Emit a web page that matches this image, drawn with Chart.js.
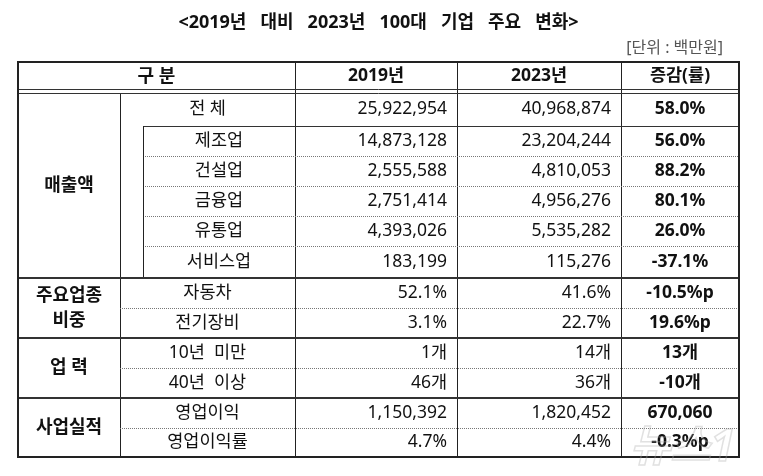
<!DOCTYPE html>
<html>
<head>
<meta charset="utf-8">
<script src="https://cdn.jsdelivr.net/npm/chart.js@4"></script>
<style>
  html, body { margin: 0; padding: 0; background: #fff; }
</style>
</head>
<body>
<canvas id="table-chart" width="763" height="476"></canvas>
<script>
const title = '<2019년   대비   2023년   100대   기업   주요   변화>'
const unitLabel = '[단위 : 백만원]'
const headers = ['구 분', '2019년', '2023년', '증감(률)']
const groups = [['매출액'], ['주요업종', '비중'], ['업 력'], ['사업실적']]
const groupSizes = [6, 2, 2, 2]
const items = ['전 체', '제조업', '건설업', '금융업', '유통업', '서비스업', '자동차', '전기장비', '10년  미만', '40년  이상', '영업이익', '영업이익률']
const values2019 = [25922954, 14873128, 2555588, 2751414, 4393026, 183199, 52.1, 3.1, 1, 46, 1150392, 4.7]
const values2023 = [40968874, 23204244, 4810053, 4956276, 5535282, 115276, 41.6, 22.7, 14, 36, 1820452, 4.4]
const changes = [58.0, 56.0, 88.2, 80.1, 26.0, -37.1, -10.5, 19.6, 13, -10, 670060, -0.3]
const valueUnits = ['', '', '', '', '', '', '%', '%', '개', '개', '', '%']
const changeUnits = ['%', '%', '%', '%', '%', '%', '%p', '%p', '개', '개', '', '%p']

// table layout, in pixels of the table box
const colWidths = [102, 23, 152, 162, 164, 118]
const rowHeights = [31, 33, 30, 30, 30, 30, 32, 30, 30, 30, 30, 30, 29]

const FONT = '"Noto Sans", "Noto Sans CJK KR", sans-serif'
const sum = arr => arr.reduce((a, b) => a + b, 0)

function fmt(v, unit) {
    if (unit === '') return v.toLocaleString('en-US')
    if (unit === '개') return v + '개'
    return v.toFixed(1) + unit
}

const tablePlugin = {
    id: 'tableCells',
    afterDraw(chart) {
        let ctx = chart.ctx
        let xs = chart.scales.x
        let ys = chart.scales.y

        let colEdge = [0]
        colWidths.forEach(w => colEdge.push(colEdge[colEdge.length - 1] + w))
        let rowEdge = [0]
        rowHeights.forEach(h => rowEdge.push(rowEdge[rowEdge.length - 1] + h))
        let X = i => Math.round(xs.getPixelForValue(colEdge[i]))
        let Y = i => Math.round(ys.getPixelForValue(rowEdge[i]))

        function line(x1, y1, x2, y2, width, color, dash) {
            ctx.save()
            ctx.beginPath()
            ctx.lineWidth = width
            ctx.strokeStyle = color
            ctx.setLineDash(dash || [])
            let off = width % 2 === 1 ? 0.5 : 0
            if (y1 === y2) { y1 += off; y2 += off } else { x1 += off; x2 += off }
            ctx.moveTo(x1, y1)
            ctx.lineTo(x2, y2)
            ctx.stroke()
            ctx.restore()
        }

        function text(str, x, y, align, bold, size) {
            ctx.save()
            ctx.font = (bold ? 'bold ' : '') + (size || 17.5) + 'px ' + FONT
            ctx.fillStyle = '#111'
            ctx.textAlign = align
            ctx.textBaseline = 'middle'
            ctx.fillText(str, x, y)
            ctx.restore()
        }

        let last = rowHeights.length

        // unit label above the table
        ctx.save()
        ctx.font = '16px ' + FONT
        ctx.fillStyle = '#555'
        ctx.textAlign = 'right'
        ctx.textBaseline = 'middle'
        ctx.fillText(unitLabel, X(6) - 16, Y(0) - 14)
        ctx.restore()

        // vertical rules
        line(X(3), Y(0), X(3), Y(last), 1, '#222')
        line(X(4), Y(0), X(4), Y(last), 1, '#222')
        line(X(5), Y(0), X(5), Y(last), 1, '#222')
        line(X(1), Y(1), X(1), Y(last), 1, '#222')

        // header double rule
        line(X(0), Y(1) - 4, X(6), Y(1) - 4, 1, '#333')
        line(X(0), Y(1), X(6), Y(1), 1, '#333')

        // header texts
        let hy = (Y(0) + Y(1)) / 2 - 1
        text(headers[0], (X(0) + X(3)) / 2, hy, 'center', true, 18)
        for (let c = 1; c < headers.length; c++) {
            text(headers[c], (X(c + 2) + X(c + 3)) / 2, hy, 'center', true, 17.5)
        }

        let start = 0
        groups.forEach((lines, g) => {
            let size = groupSizes[g]
            let top = Y(start + 1)
            let bottom = Y(start + size + 1)

            if (g > 0) line(X(0), top, X(6), top, 2, '#333')

            let mid = (top + bottom) / 2
            lines.forEach((s, k) => {
                text(s, (X(0) + X(1)) / 2, mid + (k - (lines.length - 1) / 2) * 25, 'center', true, 18)
            })

            for (let i = start; i < start + size; i++) {
                // first group has a total row followed by indented sub rows
                let labelLeft = (g === 0 && i > start) ? X(2) : X(1)
                if (i > start) {
                    let solid = g === 0 && i === start + 1
                    line(labelLeft, Y(i + 1), X(6), Y(i + 1), 1, solid ? '#333' : '#777', solid ? [] : [1, 1])
                }
                let cy = (Y(i + 1) + Y(i + 2)) / 2
                text(items[i], (labelLeft + X(3)) / 2, cy, 'center', false)
                text(fmt(values2019[i], valueUnits[i]), X(4) - 10, cy, 'right', false)
                text(fmt(values2023[i], valueUnits[i]), X(5) - 10, cy, 'right', false)
                text(fmt(changes[i], changeUnits[i]), (X(5) + X(6)) / 2, cy, 'center', true)
            }
            if (g === 0) line(X(2), Y(start + 2), X(2), Y(start + size + 1), 1, '#222')
            start += size
        })

        // outer frame
        ctx.save()
        ctx.lineWidth = 2
        ctx.strokeStyle = '#222'
        ctx.strokeRect(X(0), Y(0), X(6) - X(0), Y(last) - Y(0))
        ctx.restore()

        // faint agency watermark
        ctx.save()
        ctx.font = 'italic bold 44px ' + FONT
        ctx.strokeStyle = 'rgba(170, 170, 170, 0.35)'
        ctx.lineWidth = 1.5
        ctx.textAlign = 'right'
        ctx.textBaseline = 'alphabetic'
        ctx.strokeText('뉴스1', X(6) - 4, Y(last) + 4)
        ctx.restore()
    }
}

let tableChart = new Chart(document.getElementById('table-chart').getContext('2d'), {
    type: 'scatter',
    data: { datasets: [] },
    plugins: [tablePlugin],
    options: {
        responsive: false,
        animation: false,
        layout: { padding: { left: 18, right: 24, top: 0, bottom: 19 } },
        scales: {
            x: { type: 'linear', min: 0, max: sum(colWidths), display: false },
            y: { type: 'linear', min: 0, max: sum(rowHeights), reverse: true, display: false }
        },
        plugins: {
            legend: { display: false },
            tooltip: { enabled: false },
            title: {
                display: true,
                text: title,
                color: '#111',
                font: { family: FONT, size: 18, weight: 'bold', lineHeight: 1.2 },
                padding: { top: 12, bottom: 28.4 }
            }
        }
    }
})
</script>
</body>
</html>
